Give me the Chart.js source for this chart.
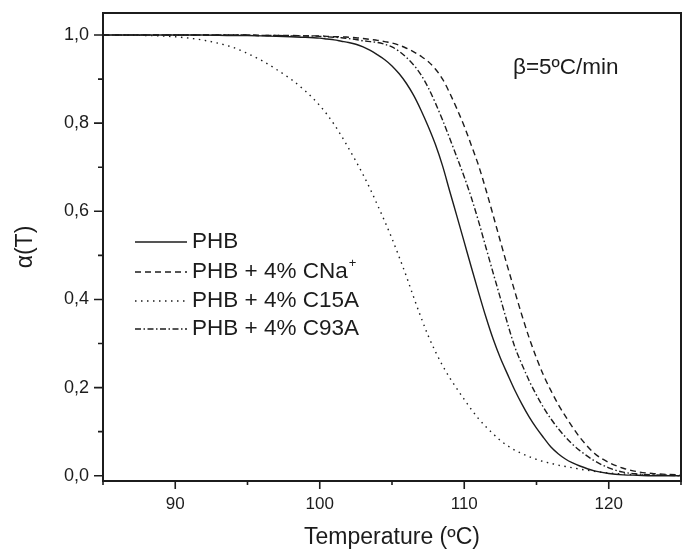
<!DOCTYPE html>
<html>
<head>
<meta charset="utf-8">
<script src="https://cdn.jsdelivr.net/npm/chart.js@4.4.0/dist/chart.umd.min.js"></script>
<style>
  html, body { margin: 0; padding: 0; background: #fff; }
  #wrap { width: 683px; height: 549px; }
</style>
</head>
<body>
<div id="wrap"><canvas id="myChart"></canvas></div>
<script>
// values (alpha vs temperature, beta = 5 C/min)
const temps = [85, 88, 90, 92, 94, 95, 96, 97, 98, 99,
  100, 100.5, 101, 101.5, 102, 102.5, 103, 103.5, 104, 104.5,
  105, 105.5, 106, 106.5, 107, 107.5, 108, 108.5, 109, 109.5,
  110, 110.5, 111, 111.5, 112, 112.5, 113, 113.5, 114, 114.5,
  115, 115.5, 116, 116.5, 117, 117.5, 118, 119, 120, 121,
  122, 123, 124, 125];
const phb = [1, 1, 1, 1, 0.999, 0.999, 0.998, 0.997, 0.996, 0.995,
  0.993, 0.991, 0.989, 0.986, 0.983, 0.979, 0.973, 0.965, 0.955, 0.944,
  0.930, 0.912, 0.890, 0.863, 0.830, 0.793, 0.752, 0.703, 0.645, 0.588,
  0.530, 0.472, 0.415, 0.360, 0.310, 0.267, 0.230, 0.194, 0.162, 0.133,
  0.108, 0.086, 0.065, 0.050, 0.038, 0.029, 0.022, 0.011, 0.005, 0.002,
  0.001, 0, 0, 0];
const phbCNa = [1, 1, 1, 1, 1, 1, 0.999, 0.999, 0.999, 0.998,
  0.998, 0.997, 0.996, 0.996, 0.995, 0.994, 0.992, 0.990, 0.988, 0.985,
  0.982, 0.977, 0.970, 0.962, 0.952, 0.940, 0.923, 0.900, 0.868, 0.832,
  0.793, 0.749, 0.703, 0.649, 0.591, 0.532, 0.474, 0.418, 0.363, 0.312,
  0.267, 0.227, 0.193, 0.162, 0.135, 0.110, 0.087, 0.051, 0.030, 0.017,
  0.009, 0.005, 0.003, 0.002];
const phbC15A = [1, 0.999, 0.996, 0.988, 0.972, 0.958, 0.942, 0.922, 0.900, 0.873,
  0.840, 0.820, 0.797, 0.771, 0.743, 0.714, 0.683, 0.650, 0.614, 0.577,
  0.538, 0.496, 0.452, 0.405, 0.360, 0.318, 0.282, 0.250, 0.222, 0.197,
  0.173, 0.150, 0.129, 0.111, 0.095, 0.080, 0.068, 0.058, 0.050, 0.043,
  0.037, 0.032, 0.028, 0.024, 0.021, 0.018, 0.015, 0.010, 0.006, 0.004,
  0.002, 0.001, 0.001, 0];
const phbC93A = [1, 1, 1, 1, 1, 1, 0.999, 0.999, 0.998, 0.998,
  0.997, 0.996, 0.995, 0.994, 0.992, 0.990, 0.987, 0.985, 0.983, 0.979,
  0.973, 0.963, 0.949, 0.932, 0.910, 0.881, 0.846, 0.807, 0.765, 0.722,
  0.678, 0.630, 0.576, 0.518, 0.460, 0.403, 0.345, 0.292, 0.252, 0.215,
  0.183, 0.154, 0.129, 0.107, 0.088, 0.071, 0.057, 0.034, 0.018, 0.008,
  0.004, 0.002, 0.001, 0];

const seriesLabels = ['PHB', 'PHB + 4% CNa', 'PHB + 4% C15A', 'PHB + 4% C93A'];
const xTicks = [90, 100, 110, 120];
const xMinorTicks = [85, 95, 105, 115, 125];
const yTicks = [0, 0.2, 0.4, 0.6, 0.8, 1.0];
const yMinorTicks = [0.1, 0.3, 0.5, 0.7, 0.9];

const ink = '#1c1c1c';
const dashes = [[], [6, 4], [1.5, 4.5], [6, 2.5, 1.5, 2.5]];
const fontFam = '"Liberation Sans", Arial, sans-serif';

function pts(vals) {
  return temps.map((t, i) => ({ x: t, y: vals[i] }));
}

// frame, major/minor ticks, legend and the beta note
const decor = {
  id: 'decor',
  afterDatasetsDraw(chart) {
    const { ctx, chartArea: a, scales: { x, y } } = chart;
    ctx.save();
    ctx.strokeStyle = ink;
    ctx.lineWidth = 2;
    ctx.strokeRect(a.left, a.top, a.right - a.left, a.bottom - a.top);

    ctx.lineWidth = 1.6;
    ctx.beginPath();
    xTicks.forEach(v => {
      const px = x.getPixelForValue(v);
      ctx.moveTo(px, a.bottom); ctx.lineTo(px, a.bottom + 8);
    });
    xMinorTicks.forEach(v => {
      const px = x.getPixelForValue(v);
      ctx.moveTo(px, a.bottom); ctx.lineTo(px, a.bottom + 4);
    });
    yTicks.forEach(v => {
      const py = y.getPixelForValue(v);
      ctx.moveTo(a.left, py); ctx.lineTo(a.left - 9, py);
    });
    yMinorTicks.forEach(v => {
      const py = y.getPixelForValue(v);
      ctx.moveTo(a.left, py); ctx.lineTo(a.left - 5, py);
    });
    ctx.stroke();

    // legend
    const rows = [242, 272, 301, 329];
    ctx.font = '22.5px ' + fontFam;
    ctx.fillStyle = ink;
    ctx.textBaseline = 'middle';
    ctx.lineWidth = 1.4;
    seriesLabels.forEach((lab, i) => {
      ctx.setLineDash(dashes[i]);
      ctx.beginPath();
      ctx.moveTo(135, rows[i]); ctx.lineTo(187, rows[i]);
      ctx.stroke();
      ctx.fillText(lab, 192, rows[i]);
      if (i === 1) {
        const w = ctx.measureText(lab).width;
        ctx.font = '13px ' + fontFam;
        ctx.fillText('+', 192 + w + 1, rows[i] - 9);
        ctx.font = '22.5px ' + fontFam;
      }
    });
    ctx.setLineDash([]);

    ctx.fillText('\u03B2=5\u00BAC/min', 513, 68);
    ctx.restore();
  }
};

const ctx = document.getElementById('myChart').getContext('2d');
const data = {
  datasets: [phb, phbCNa, phbC15A, phbC93A].map((vals, i) => ({
    label: seriesLabels[i],
    data: pts(vals),
    borderColor: ink,
    borderWidth: 1.4,
    borderDash: dashes[i],
    pointRadius: 0,
    cubicInterpolationMode: 'monotone',
    fill: false,
  })),
};

const config = {
  type: 'line',
  data: data,
  plugins: [decor],
  options: {
    responsive: true,
    maintainAspectRatio: false,
    animation: false,
    layout: { padding: { left: 0, right: 2, top: 13, bottom: 0 } },
    plugins: {
      legend: { display: false },
      tooltip: { enabled: false },
    },
    scales: {
      x: {
        type: 'linear',
        min: 85,
        max: 125,
        afterBuildTicks: (s) => { s.ticks = xTicks.map(v => ({ value: v })); },
        afterFit: (s) => { s.height = 68; s.paddingLeft = 0; s.paddingRight = 0; },
        grid: { display: false },
        border: { display: false },
        ticks: { color: ink, padding: 5, font: { size: 17, family: fontFam } },
        title: {
          display: true,
          text: 'Temperature (\u00BAC)',
          color: ink,
          font: { size: 23, family: fontFam, lineHeight: 1 },
          padding: { top: 0, bottom: 0 },
        },
      },
      y: {
        type: 'linear',
        min: -0.012,
        max: 1.05,
        afterBuildTicks: (s) => { s.ticks = yTicks.map(v => ({ value: v })); },
        afterFit: (s) => { s.width = 103; s.paddingTop = 0; s.paddingBottom = 0; },
        grid: { display: false },
        border: { display: false },
        ticks: {
          color: ink,
          padding: 6,
          font: { size: 18, family: fontFam },
          callback: (v) => v.toFixed(1).replace('.', ','),
        },
        title: {
          display: true,
          text: '\u03B1(T)',
          color: ink,
          font: { size: 23, family: fontFam, lineHeight: 1 },
          padding: { top: 14, bottom: 0 },
        },
      },
    },
  },
};

const myChart = new Chart(ctx, config);
</script>
</body>
</html>
